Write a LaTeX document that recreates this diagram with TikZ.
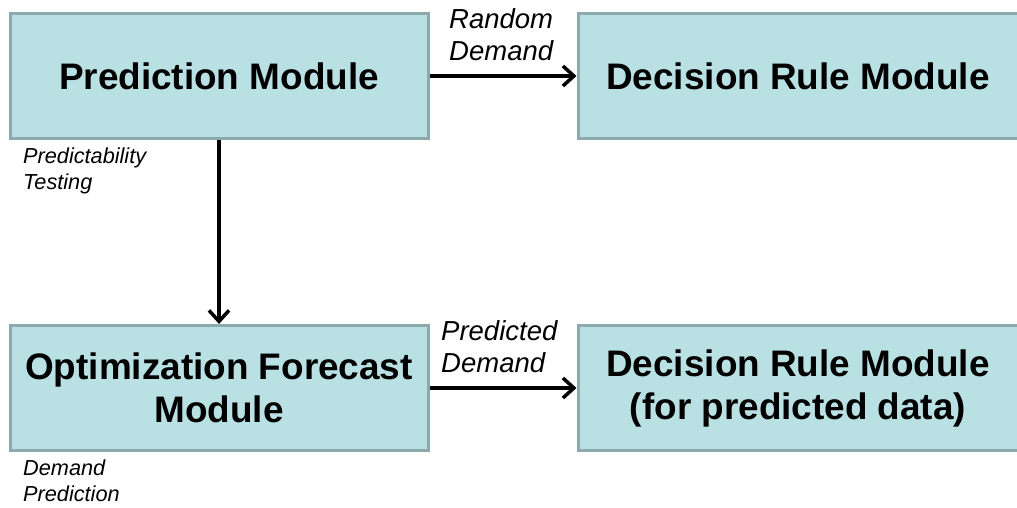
\documentclass[tikz,border=0pt]{standalone}
\usepackage{fontspec}
\setmainfont{Liberation Sans}
\usetikzlibrary{arrows.meta}
\definecolor{boxfill}{HTML}{B9E0E3}
\definecolor{boxline}{HTML}{8CA9AB}
\tikzset{
  module/.style={draw=boxline, fill=boxfill, line width=3pt, inner sep=0pt,
    minimum height=125pt, align=center,
    font=\fontsize{36.9}{43}\selectfont\bfseries},
  flow/.style={line width=3.5pt, -{Straight Barb[length=11pt,width=20pt,line width=3.5pt]}},
  flowlabel/.style={anchor=north west, inner sep=0pt, align=left,
    font=\fontsize{27.5}{32}\selectfont\itshape},
  note/.style={anchor=north west, inner sep=0pt, align=left,
    font=\fontsize{21.7}{26}\selectfont\itshape}
}
\begin{document}
\begin{tikzpicture}[x=1pt, y=-1pt]
  \useasboundingbox[fill=white] (0,0) rectangle (1017,508);
  % module boxes
  \node[module, minimum width=418pt] (pred) at (219,76) {Prediction Module};
  \node[module, minimum width=440pt] (dec) at (798,76) {Decision Rule Module};
  \node[module, minimum width=418pt] (opt) at (219,388) {Optimization Forecast\\Module};
  \node[module, minimum width=440pt] (decp) at (798,388) {Decision Rule Module\\(for predicted data)};
  % connectors
  \draw[flow] (pred.east) -- (dec.west);
  \draw[flow] (pred.south) -- (opt.north);
  \draw[flow] (opt.east) -- (decp.west);
  % labels
  \node[flowlabel] (lrand) at (449,8) {Random\\Demand};
  \node[flowlabel] (lpred) at (441,320) {Predicted\\Demand};
  \node[note] (ntest) at (23,148) {Predictability\\Testing};
  \node[note] (ndem) at (23,460) {Demand\\Prediction};
\end{tikzpicture}
\end{document}
